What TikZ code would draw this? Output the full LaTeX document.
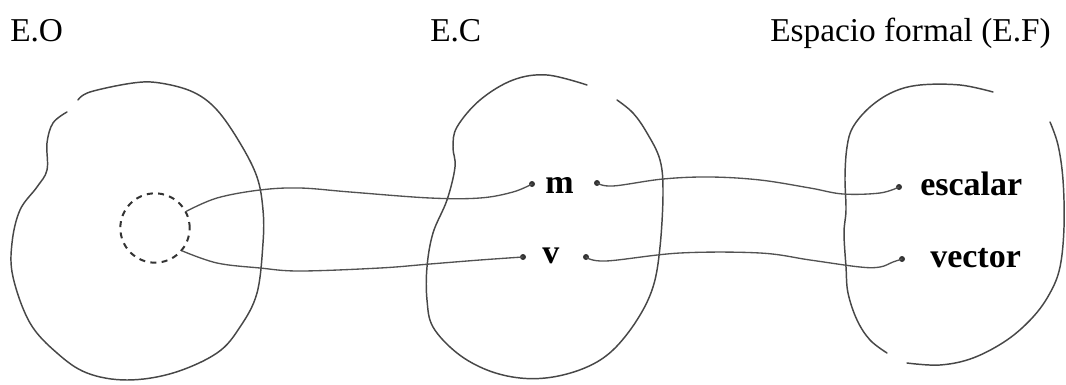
\documentclass[tikz,border=0pt]{standalone}
\usepackage{fontspec}
\setmainfont{Liberation Serif}
\begin{document}
\begin{tikzpicture}[x=0.75pt,y=-0.75pt,
  outline/.style={draw=black!72,line width=1.1pt,line cap=round},
  conn/.style={draw=black!68,line width=1.0pt,line cap=round},
  dotnode/.style={circle,fill=black!80,inner sep=0pt,minimum size=4.5pt},
  title/.style={font=\fontsize{25}{30}\selectfont,anchor=base west,inner sep=0pt},
  lab/.style={font=\fontsize{25.5}{30}\selectfont\bfseries,anchor=base west,inner sep=0pt}]
\useasboundingbox (0,0) rectangle (1066,385);
% titles
\node[title] (tEO) at (10,41) {E.O};
\node[title] (tEC) at (430,41) {E.C};
\node[title] (tEF) at (770,41) {Espacio formal (E.F)};
% blobs
\draw[outline] plot[smooth,tension=0.6] coordinates {(78,100) (90,92) (133,83) (160,83) (193,92) (217,110) (240,143) (257,177) (263,210) (263,243) (257,293) (240,327) (217,353) (173,373) (127,380) (87,373) (57,353) (30,323) (13,277) (12,243) (20,210) (37,187) (47,170) (47,143) (53,123) (67,112)};
\draw[outline] plot[smooth,tension=0.6] coordinates {(587,85) (547,75) (513,80) (480,100) (457,127) (453,147) (455,167) (447,200) (433,233) (427,267) (427,300) (433,327) (457,353) (487,370) (520,378) (553,377) (587,367) (613,350) (637,320) (653,287) (660,247) (663,193) (660,160) (647,133) (633,113) (617,100)};
\draw[outline] plot[smooth,tension=0.6] coordinates {(993,92) (960,85) (920,85) (893,92) (870,107) (853,127) (847,147) (845,177) (846,210) (844,233) (846,267) (848,293) (857,320) (870,340) (887,353)};
\draw[outline] plot[smooth,tension=0.6] coordinates {(907,363) (940,365) (973,358) (1007,340) (1033,317) (1050,293) (1060,267) (1064,227) (1063,180) (1058,145) (1050,122)};
% inner dashed circle
\node[circle,draw=black!80,line width=1.5pt,dash pattern=on 4.5pt off 4pt,minimum size=52pt,inner sep=0pt] (obj) at (155,228) {};
% labels
\node[lab] (m) at (545,193) {m};
\node[lab] (v) at (542,263) {v};
\node[lab] (esc) at (920,195) {escalar};
\node[lab] (vec) at (930,267) {vector};
% dots
\node[dotnode] (mL) at (532,184) {};
\node[dotnode] (mR) at (597,183) {};
\node[dotnode] (vL) at (523,257) {};
\node[dotnode] (vR) at (586,257) {};
\node[dotnode] (eL) at (899,187) {};
\node[dotnode] (vecL) at (902,259) {};
% connectors
\draw[conn] plot[smooth,tension=0.6] coordinates {(obj.28) (217,198) (260,190) (300,188) (350,192) (430,198) (480,198) (513,192) (mL)};
\draw[conn] plot[smooth,tension=0.6] coordinates {(obj.-40) (217,263) (260,268) (300,271) (380,268) (430,264) (480,260) (vL)};
\draw[conn] plot[smooth,tension=0.6] coordinates {(mR) (613,186) (663,179) (710,177) (760,180) (810,188) (843,194) (880,193) (eL)};
\draw[conn] plot[smooth,tension=0.6] coordinates {(vR) (606,261) (680,253) (760,253) (810,260) (860,267) (880,267) (893,262) (vecL)};
\end{tikzpicture}
\end{document}
